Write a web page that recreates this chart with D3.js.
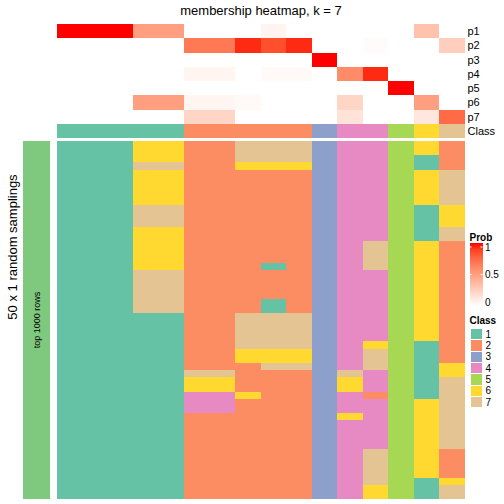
<!DOCTYPE html>
<html><head><meta charset="utf-8">
<script src="https://cdn.jsdelivr.net/npm/d3@7"></script>
<style>body{margin:0;background:#fff}svg{display:block;font-family:"Liberation Sans",Arial,sans-serif}rect{shape-rendering:crispEdges}</style>
</head><body><svg id="c" width="504" height="504"></svg>
<script>
// ---------- data ----------
const samples = d3.range(16).map(i => "s" + (i + 1));
const probLabels = ["p1","p2","p3","p4","p5","p6","p7"];
const p1 = [1,1,1,0.5,0.5,0,0,0,0.06,0,0,0,0,0,0.32,0];
const p2 = [0,0,0,0,0,0.68,0.68,0.95,0.85,0.95,0,0,0.02,0,0,0.26];
const p3 = [0,0,0,0,0,0,0,0,0,0,1,0,0,0,0,0];
const p4 = [0,0,0,0,0,0.05,0.05,0,0.03,0.03,0,0.6,0.95,0,0,0];
const p5 = [0,0,0,0,0,0,0,0,0,0,0,0,0,1,0,0];
const p6 = [0,0,0,0.5,0.5,0.05,0.05,0.03,0,0,0,0.22,0,0,0.5,0];
const p7 = [0,0,0,0,0,0.22,0.22,0,0,0,0,0.15,0,0,0.13,0.74];
const sampleClass = [1,1,1,1,1,2,2,2,2,2,3,4,4,5,6,7];
const classLevels = [1,2,3,4,5,6,7];
const classColors = ["#66C2A5","#FC8D62","#8DA0CB","#E78AC3","#A6D854","#FFD92F","#E5C494"];
const probTicks = [0, 0.5, 1];
// class assignments of each sample (column) in each of the 50 random samplings (rows)
const sc01 = [1,1,1,1,1,1,1,1,1,1,1,1,1,1,1,1,1,1,1,1,1,1,1,1,1,1,1,1,1,1,1,1,1,1,1,1,1,1,1,1,1,1,1,1,1,1,1,1,1,1];
const sc02 = sc01.slice();
const sc03 = sc01.slice();
const sc04 = [6,6,6,7,6,6,6,6,6,7,7,7,6,6,6,6,6,6,7,7,7,7,7,7,1,1,1,1,1,1,1,1,1,1,1,1,1,1,1,1,1,1,1,1,1,1,1,1,1,1];
const sc05 = sc04.slice();
const sc06 = [2,2,2,2,2,2,2,2,2,2,2,2,2,2,2,2,2,2,2,2,2,2,2,2,2,2,2,2,2,2,2,2,7,6,6,4,4,4,2,2,2,2,2,2,2,2,2,2,2,2];
const sc07 = sc06.slice();
const sc08 = [7,7,7,6,2,2,2,2,2,2,2,2,2,2,2,2,2,2,2,2,2,2,2,2,7,7,7,7,7,6,6,2,2,2,2,6,2,2,2,2,2,2,2,2,2,2,2,2,2,2];
const sc09 = [7,7,7,6,2,2,2,2,2,2,2,2,2,2,2,2,2,1,2,2,2,2,1,1,7,7,7,7,7,6,6,7,2,2,2,2,2,2,2,2,2,2,2,2,2,2,2,2,2,2];
const sc10 = [7,7,7,6,2,2,2,2,2,2,2,2,2,2,2,2,2,2,2,2,2,2,2,2,7,7,7,7,7,6,6,7,2,2,2,2,2,2,2,2,2,2,2,2,2,2,2,2,2,2];
const sc11 = [3,3,3,3,3,3,3,3,3,3,3,3,3,3,3,3,3,3,3,3,3,3,3,3,3,3,3,3,3,3,3,3,3,3,3,3,3,3,3,3,3,3,3,3,3,3,3,3,3,3];
const sc12 = [4,4,4,4,4,4,4,4,4,4,4,4,4,4,4,4,4,4,4,4,4,4,4,4,4,4,4,4,4,4,4,4,7,6,6,4,4,4,6,4,4,4,4,4,4,4,4,4,4,4];
const sc13 = [4,4,4,4,4,4,4,4,4,4,4,4,4,4,7,7,7,7,4,4,4,4,4,4,4,4,4,4,6,7,7,7,4,4,4,2,4,4,4,4,4,4,4,7,7,7,7,7,6,6];
const sc14 = [5,5,5,5,5,5,5,5,5,5,5,5,5,5,5,5,5,5,5,5,5,5,5,5,5,5,5,5,5,5,5,5,5,5,5,5,5,5,5,5,5,5,5,5,5,5,5,5,5,5];
const sc15 = [6,6,1,1,6,6,6,6,6,1,1,1,1,1,6,6,6,6,6,6,6,6,6,6,6,6,6,6,1,1,1,1,1,1,1,1,6,6,6,6,6,6,6,6,6,6,6,1,1,1];
const sc16 = [2,2,2,2,7,7,7,7,7,6,6,6,7,7,2,2,2,2,2,2,2,2,2,2,2,2,2,2,2,2,2,6,6,7,7,7,7,7,7,7,7,7,7,2,2,2,2,6,7,7];
const samplingCols = [sc01,sc02,sc03,sc04,sc05,sc06,sc07,sc08,sc09,sc10,sc11,sc12,sc13,sc14,sc15,sc16];

// ---------- drawing ----------
const svg = d3.select("#c");
const probMatrix = [p1,p2,p3,p4,p5,p6,p7];
const x = d3.scaleBand().domain(samples).range([56.7, 465]);
const yTop = d3.scaleBand().domain(probLabels).range([24, 124]);
const nRuns = samplingCols[0].length;
const yMain = d3.scaleBand().domain(d3.range(nRuns)).range([141, 499]);
const probColor = d3.scaleLinear().domain([0,1]).range(["#FFFFFF","#FF0000"]).interpolate(d3.interpolateLab);
const classColor = d3.scaleOrdinal().domain(classLevels).range(classColors);
const xr = i => Math.round(x(samples[i]));
const wr = i => Math.round(x(samples[i]) + x.bandwidth()) - xr(i);

// title
svg.append("text").attr("x", 261).attr("y", 15).attr("text-anchor","middle")
  .attr("font-size", 13).text("membership heatmap, k = 7");

// probability heatmap
probMatrix.forEach((row, ri) => {
  const y0 = Math.round(yTop(probLabels[ri])), y1 = Math.round(yTop(probLabels[ri]) + yTop.bandwidth());
  svg.append("g").selectAll("rect").data(row).join("rect")
    .attr("x", (d,i) => xr(i)).attr("y", y0)
    .attr("width", (d,i) => wr(i)).attr("height", y1 - y0)
    .attr("fill", d => probColor(d));
});
svg.append("g").selectAll("text").data(probLabels).join("text")
  .attr("x", 467.5).attr("y", d => yTop(d) + yTop.bandwidth()/2).attr("dy","0.35em")
  .attr("font-size", 11).text(d => d);

// class annotation
svg.append("g").selectAll("rect").data(sampleClass).join("rect")
  .attr("x", (d,i) => xr(i)).attr("y", 124)
  .attr("width", (d,i) => wr(i)).attr("height", 14)
  .attr("fill", d => classColor(d));
svg.append("text").attr("x", 467.5).attr("y", 131).attr("dy","0.35em")
  .attr("font-size", 11).text("Class");

// sampling heatmap
samplingCols.forEach((col, ci) => {
  svg.append("g").selectAll("rect").data(col).join("rect")
    .attr("x", xr(ci)).attr("y", (d,i) => Math.round(yMain(i)))
    .attr("width", wr(ci))
    .attr("height", (d,i) => Math.round(yMain(i) + yMain.bandwidth()) - Math.round(yMain(i)))
    .attr("fill", d => classColor(d));
});

// left row annotation bar
svg.append("rect").attr("x", 23).attr("y", 141).attr("width", 27).attr("height", 358)
  .attr("fill", "#7FC97F");
svg.append("text").attr("transform","translate(40,320) rotate(-90)").attr("text-anchor","middle")
  .attr("font-size", 9).text("top 1000 rows");
svg.append("text").attr("transform","translate(17,247) rotate(-90)").attr("text-anchor","middle")
  .attr("font-size", 13).text("50 x 1 random samplings");

// Prob legend
svg.append("text").attr("x", 469.5).attr("y", 241).attr("font-size", 10).attr("font-weight","bold").text("Prob");
const defs = svg.append("defs");
const grad = defs.append("linearGradient").attr("id","pg").attr("x1",0).attr("y1",1).attr("x2",0).attr("y2",0);
d3.range(0, 1.01, 0.1).forEach(t => grad.append("stop").attr("offset", t).attr("stop-color", probColor(t)));
const yLeg = d3.scaleLinear().domain([0,1]).range([302, 247]);
svg.append("rect").attr("x", 469.5).attr("y", 243).attr("width", 13).attr("height", 63).attr("fill","url(#pg)");
probTicks.forEach(t => {
  svg.append("line").attr("x1",469.5).attr("x2",471.5).attr("y1",yLeg(t)).attr("y2",yLeg(t)).attr("stroke","#fff");
  svg.append("line").attr("x1",480.5).attr("x2",482.5).attr("y1",yLeg(t)).attr("y2",yLeg(t)).attr("stroke","#fff");
  svg.append("text").attr("x", 485).attr("y", yLeg(t)).attr("dy","0.35em").attr("font-size", 10).text(t);
});

// Class legend
svg.append("text").attr("x", 469.5).attr("y", 324).attr("font-size", 10).attr("font-weight","bold").text("Class");
const lg = svg.append("g").selectAll("g").data(classLevels).join("g")
  .attr("transform", (d,i) => `translate(470.5,${329 + i*11.33})`);
lg.append("rect").attr("width", 11).attr("height", 10.3).attr("fill", d => classColor(d));
lg.append("text").attr("x", 15).attr("y", 5.2).attr("dy","0.35em").attr("font-size", 10).text(d => d);
</script></body></html>
